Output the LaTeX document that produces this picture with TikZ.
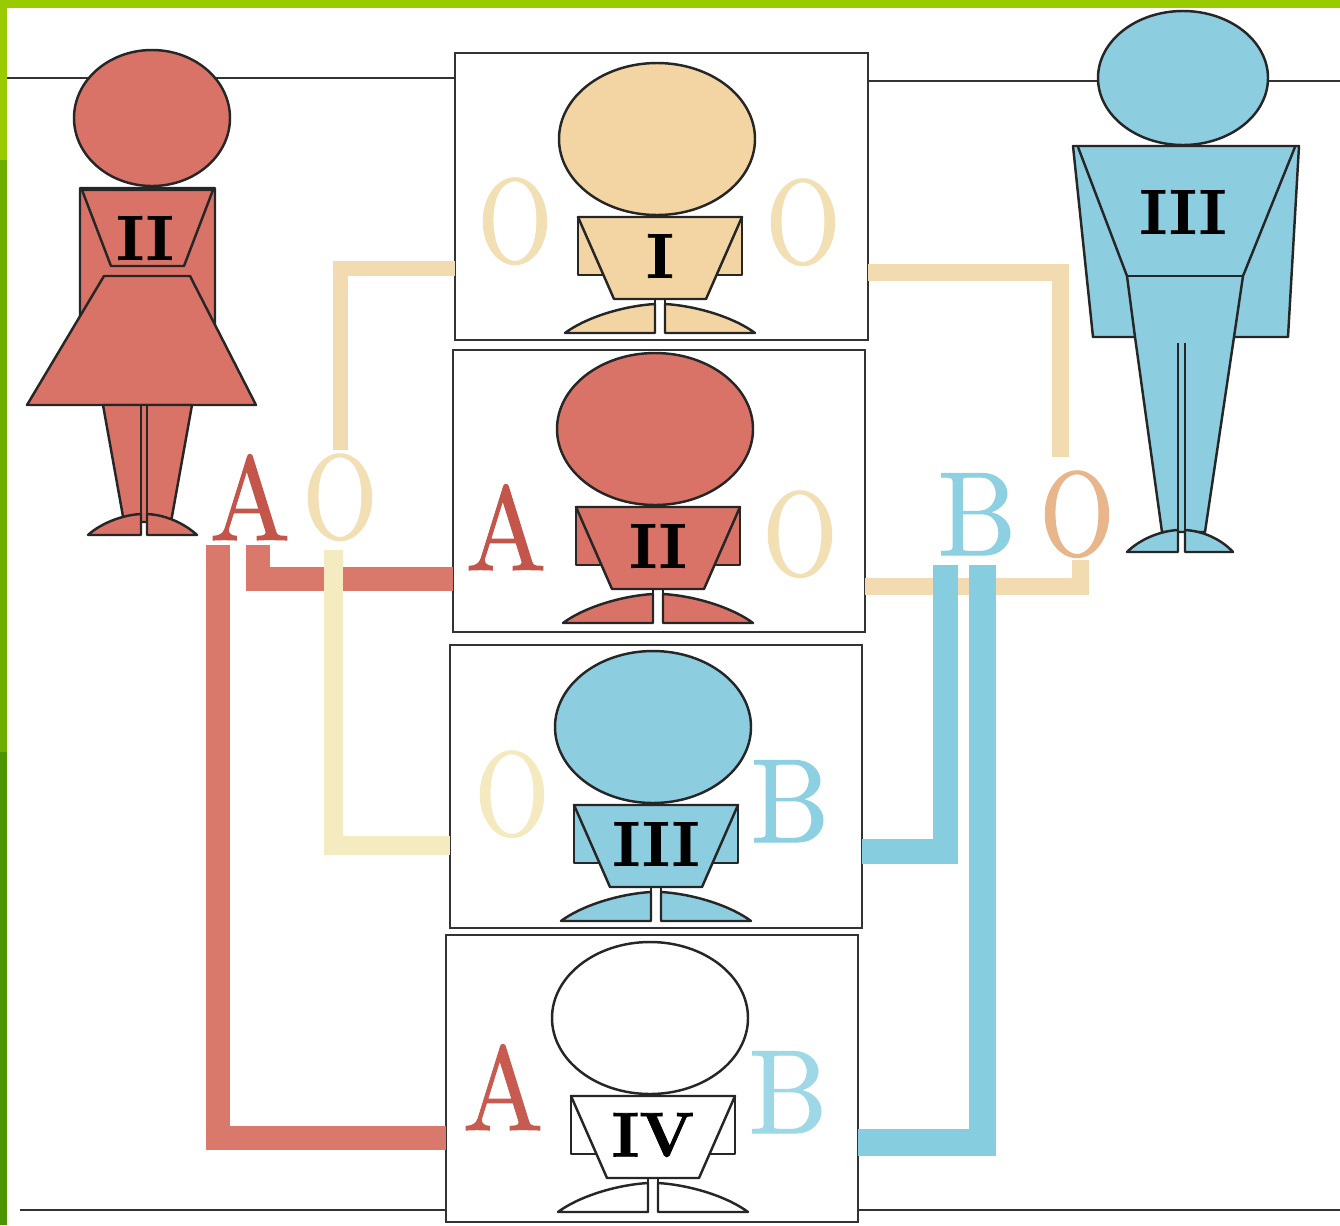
\documentclass[tikz,border=0pt]{standalone}
\usepackage{fontspec}
\usepackage{graphicx}
\usetikzlibrary{calc}

\newfontfamily\genefont{lmroman10-regular.otf}[FakeBold=0.9]
\newfontfamily\numfont{lmroman10-bold.otf}[FakeBold=1.2]

\definecolor{figRed}{HTML}{DA7367}
\definecolor{figBeige}{HTML}{F3D5A4}
\definecolor{figBlue}{HTML}{8DCDE0}
\definecolor{lineRed}{HTML}{D9796B}
\definecolor{lineBeige}{HTML}{F2DBB0}
\definecolor{linePale}{HTML}{F5EBC0}
\definecolor{lineBlue}{HTML}{86CDE0}
\definecolor{txtRed}{HTML}{C4554A}
\definecolor{txtO}{HTML}{F2DFB4}
\definecolor{txtOdark}{HTML}{E8B68A}
\definecolor{txtB}{HTML}{8DD0E2}
\definecolor{greenA}{HTML}{99CC00}
\definecolor{greenB}{HTML}{6DAE00}
\definecolor{greenC}{HTML}{4B9600}

\begin{document}
\begin{tikzpicture}[x=0.02cm, y=-0.02cm,
  figline/.style={draw=black!85, line width=1.4pt, line join=round},
  frame/.style={draw=black!80, line width=1.1pt, fill=white, inner sep=0pt, outer sep=0pt},
  rule/.style={draw=black!80, line width=1.1pt},
  letter/.style={anchor=base, inner sep=0pt, font=\genefont\fontsize{68}{68}\selectfont},
  numeral/.style={inner sep=0pt, font=\numfont\fontsize{36}{36}\selectfont},
  wire/.style={line width=#1, line join=miter, line cap=butt},
  pics/kid/.style 2 args={code={
    \filldraw[fill=#1, figline] (0,0) ellipse [x radius=98, y radius=76];
    \filldraw[fill=#1, figline] (-79,78) rectangle (85,136);
    \filldraw[fill=#1, figline] (-79,78) -- (85,78) -- (49,160) -- (-43,160) -- cycle;
    \draw[figline] (-2,160) -- (-2,194) (8,160) -- (8,194);
    \filldraw[fill=#1, figline] (-2,165) .. controls (-35,167) and (-72,179) .. (-92,194) -- (-2,194) -- cycle;
    \filldraw[fill=#1, figline] (8,165) .. controls (41,167) and (78,179) .. (98,194) -- (8,194) -- cycle;
    \node[numeral] (-num) at (3,117) {#2};
  }}
]
\useasboundingbox (0,0) rectangle (1340,1225);
\fill[white] (0,0) rectangle (1340,1225);

% green page edge
\fill[greenA] (0,0) rectangle (1340,8);
\fill[greenA] (0,0) rectangle (7,160);
\fill[greenB] (0,160) rectangle (7,752);
\fill[greenC] (0,752) rectangle (7,1225);

% the four children's frames
\node[frame, minimum width=8.26cm, minimum height=5.74cm] (b1) at (661.5,196.5) {};
\node[frame, minimum width=8.24cm, minimum height=5.64cm] (b2) at (659,491) {};
\node[frame, minimum width=8.24cm, minimum height=5.66cm] (b3) at (656,786.5) {};
\node[frame, minimum width=8.24cm, minimum height=5.74cm] (b4) at (652,1078.5) {};

% horizontal rules
\draw[rule] (7,78) -- (b1.west |- 0,78);
\draw[rule] (b1.east |- 0,81) -- (1340,81);
\draw[rule] (20,1210) -- (b4.west |- 0,1210);
\draw[rule] (b4.east |- 0,1210) -- (1340,1210);

% parents' gene letters
\node[letter, text=txtRed] (pA) at (250,540) {\scalebox{0.9}[1]{A}};
\node[letter, text=txtO] (pO) at (340,538) {\scalebox{0.8}[1]{O}};
\node[letter, text=txtB] (pB) at (977,555) {\scalebox{0.93}[1]{B}};
\node[letter, text=txtOdark] (pO2) at (1077,555) {\scalebox{0.8}[1]{O}};

% free ends of the connectors next to the letters
\coordinate (rA1) at (258,545);
\coordinate (rA2) at (218,545);
\coordinate (oTop) at (340,450);
\coordinate (oBot) at (333,550);
\coordinate (o2Top) at (1060,457);
\coordinate (o2Bot) at (1080,560);
\coordinate (bB1) at (945,565);
\coordinate (bB2) at (982,565);

% red (A) connectors
\draw[wire=0.48cm, lineRed] (rA1) |- (b2.west |- 0,579);
\draw[wire=0.48cm, lineRed] (rA2) |- (b4.west |- 0,1138);
% beige (O) connectors
\draw[wire=0.3cm, lineBeige] (b1.west |- 0,268) -| (oTop);
\draw[wire=0.38cm, linePale] (oBot) |- (b3.west |- 0,845);
\draw[wire=0.34cm, lineBeige] (b1.east |- 0,272) -| (o2Top);
\draw[wire=0.34cm, lineBeige] (o2Bot) |- (b2.east |- 0,586);
% blue (B) connectors
\draw[wire=0.5cm, lineBlue] (bB1) |- (b3.east |- 0,851);
\draw[wire=0.54cm, lineBlue] (bB2) |- (b4.east |- 0,1142);

% mother, group II
\filldraw[fill=figRed, figline] (80,188) -- (215,188) -- (215,325) -- (80,316) -- cycle;
\filldraw[fill=figRed, figline] (82,190) -- (213,190) -- (184,266) -- (111,266) -- cycle;
\filldraw[fill=figRed, figline] (104,276) -- (190,276) -- (256,405) -- (27,405) -- cycle;
\filldraw[fill=figRed, figline] (103,405) -- (192,405) -- (171,522) -- (124,522) -- cycle;
\draw[figline] (141,405) -- (141,535) (147,405) -- (147,535);
\filldraw[fill=figRed, figline] (141,514) .. controls (121,515) and (100,524) .. (88,535) -- (141,535) -- cycle;
\filldraw[fill=figRed, figline] (147,514) .. controls (167,515) and (185,524) .. (197,535) -- (147,535) -- cycle;
\filldraw[fill=figRed, figline] (152,118) ellipse [x radius=78, y radius=68];
\node[numeral] (mNum) at (145,238) {II};

% father, group III
\filldraw[fill=figBlue, figline] (1073,146) -- (1299,146) -- (1288,337) -- (1234,337) -- (1205,532)
  -- (1162,532) -- (1135,337) -- (1093,337) -- cycle;
\draw[figline] (1078,147) -- (1127,276) -- (1135,337);
\draw[figline] (1295,147) -- (1243,276) -- (1234,337);
\draw[figline] (1127,276) -- (1243,276);
\draw[figline] (1178,343) -- (1178,545) (1185,343) -- (1185,545);
\filldraw[fill=figBlue, figline] (1178,530) .. controls (1159,531) and (1139,540) .. (1127,552) -- (1178,552) -- cycle;
\filldraw[fill=figBlue, figline] (1185,530) .. controls (1204,531) and (1222,540) .. (1233,552) -- (1185,552) -- cycle;
\filldraw[fill=figBlue, figline] (1183,78) ellipse [x radius=85, y radius=67];
\node[numeral] (fNum) at (1183,212) {III};

% children
\pic (k1) at (657,139) {kid={figBeige}{I}};
\pic (k2) at (655,429) {kid={figRed}{II}};
\pic (k3) at (653,727) {kid={figBlue}{III}};
\pic (k4) at (650,1018) {kid={white}{IV}};

% children's gene letters
\node[letter, text=txtO] (l1a) at (515,262) {\scalebox{0.8}[1]{O}};
\node[letter, text=txtO] (l1b) at (803,263) {\scalebox{0.8}[1]{O}};
\node[letter, text=txtRed] (l2a) at (506,570) {\scalebox{0.9}[1]{A}};
\node[letter, text=txtO] (l2b) at (800,575) {\scalebox{0.8}[1]{O}};
\node[letter, text=linePale!90!txtO] (l3a) at (512,835) {\scalebox{0.8}[1]{O}};
\node[letter, text=txtB] (l3b) at (790,842) {\scalebox{0.93}[1]{B}};
\node[letter, text=txtRed!80!figRed] (l4a) at (503,1130) {\scalebox{0.9}[1]{A}};
\node[letter, text=txtB!85!white] (l4b) at (788,1133) {\scalebox{0.93}[1]{B}};
\end{tikzpicture}
\end{document}
